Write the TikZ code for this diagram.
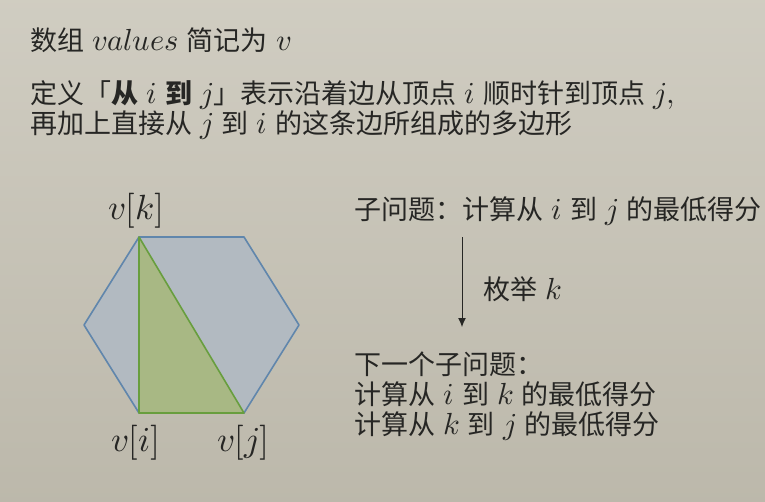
\documentclass[tikz,border=0pt]{standalone}
\usepackage{unicode-math}
\setmainfont{Noto Sans CJK SC}[WordSpace=1.35]
\setmathfont{Latin Modern Math}[Scale=1.13]
\usetikzlibrary{arrows.meta}
\definecolor{bg}{RGB}{196,192,178}
\definecolor{ink}{RGB}{38,38,36}
\definecolor{hexfill}{RGB}{178,186,193}
\definecolor{hexline}{RGB}{96,134,172}
\definecolor{trifill}{RGB}{168,184,132}
\definecolor{triline}{RGB}{104,158,62}
\tikzstyle{txt} = [anchor=west, inner sep=0pt, align=left, text=ink, font=\fontsize{27}{30}\selectfont]
\tikzstyle{lbl} = [inner sep=0pt, text=ink, font=\fontsize{31}{36}\selectfont]
\tikzstyle{hex} = [draw=hexline, fill=hexfill, line width=1.6pt, line join=round]
\tikzstyle{tri} = [draw=triline, fill=trifill, line width=1.6pt, line join=round]

\begin{document}
\begin{tikzpicture}[x=1pt,y=-1pt]
		\fill[top color=bg!80!white, bottom color=bg!96!black] (0,0) rectangle (765,501);
		\useasboundingbox (0,0) rectangle (765,501);
		
		\node[txt](1) at (30,40){数组 $values$ 简记为 $v$};
		\node[txt](2) at (30,110){定义「\textbf{从} $i$ \textbf{到} $j$」表示沿着边从顶点 $i$ 顺时针到顶点 $j,$\\再加上直接从 $j$ 到 $i$ 的这条边所组成的多边形};
		
		\coordinate (k) at (139,237);
		\coordinate (t) at (244,237);
		\coordinate (r) at (299,325);
		\coordinate (j) at (244,413);
		\coordinate (i) at (139,413);
		\coordinate (l) at (84,325);
		\draw[hex] (k)--(t)--(r)--(j)--(i)--(l)--cycle;
		\draw[tri] (k)--(i)--(j)--cycle;
		
		\node[lbl](vk) at (136,211){$v[k]$};
		\node[lbl](vi) at (136,443){$v[i]$};
		\node[lbl](vj) at (243,443){$v[j]$};
		
		\node[txt](3) at (354,211){子问题：计算从 $i$ 到 $j$ 的最低得分};
		\node[txt](4) at (354,396){下一个子问题：\\计算从 $i$ 到 $k$ 的最低得分\\计算从 $k$ 到 $j$ 的最低得分};
		\coordinate (a) at (462,237);
		\coordinate (b) at (462,327);
		\draw[ink, line width=1pt, -{Latex[length=9pt,width=8pt]}] (a)--(b);
		\node[txt](5) at (483,289){枚举 $k$};
\end{tikzpicture}
\end{document}
